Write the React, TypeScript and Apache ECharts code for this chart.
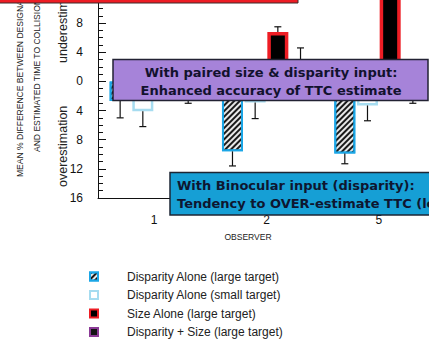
import React, { useEffect, useRef } from 'react';
import * as echarts from 'echarts';

const observers = ['1', '2', '5'];
const seriesNames = [
  'Disparity Alone (large target)',
  'Disparity Alone (small target)',
  'Size Alone (large target)',
  'Disparity + Size (large target)',
];
const dispLarge = [-2.7, -9.6, -9.9];
const dispLargeErr = [2.3, 2.0, 1.4];
const dispSmall = [-4.1, -2.9, -3.3];
const dispSmallErr = [2.1, 2.2, 2.1];
const sizeAlone = [1.0, 6.8, 15];
const sizeAloneErr = [0.8, 0.7, 1.0];
const combined = [-1.4, 2.0, -1.8];
const combinedErr = [1.6, 2.6, 1.2];

const values = [dispLarge, dispSmall, sizeAlone, combined];
const errors = [dispLargeErr, dispSmallErr, sizeAloneErr, combinedErr];

const BAR_W = 21;
const BAR_GAP = 0.08;
const PITCH = BAR_W * (1 + BAR_GAP);

const barStyles: any[] = [
  {
    color: '#e8e8e8',
    borderColor: '#1ba6e6',
    borderWidth: 2,
    decal: {
      symbol: 'rect',
      symbolSize: 1,
      dashArrayX: [[1, 0]],
      dashArrayY: [1.2, 1.6],
      rotation: -Math.PI / 4,
      color: '#1a1a1a',
    },
  },
  { color: '#ffffff', borderColor: '#a6dcf0', borderWidth: 2.5 },
  { color: '#000000', borderColor: '#ee1d24', borderWidth: 3.5 },
  { color: '#141414', borderColor: '#8b3a96', borderWidth: 2.5 },
];

export default function App() {
  const ref = useRef<HTMLDivElement>(null);
  useEffect(() => {
    document.body.style.margin = '0';
    if (!ref.current) return;
    const chart = echarts.init(ref.current, undefined, { renderer: 'svg' });

    const barSeries = values.map((vals, i) => ({
      name: seriesNames[i],
      type: 'bar',
      data: vals,
      barWidth: BAR_W,
      barGap: `${BAR_GAP * 100}%`,
      itemStyle: barStyles[i],
      z: 2,
    }));

    const errData: number[][] = [];
    values.forEach((vals, i) => {
      vals.forEach((v, j) => {
        errData.push([j, v, errors[i][j], i]);
      });
    });

    const errSeries = {
      name: 'error',
      type: 'custom',
      z: 3,
      data: errData,
      encode: { x: 0, y: 1 },
      renderItem: (params: any, api: any) => {
        const cat = api.value(0);
        const v = api.value(1);
        const e = api.value(2);
        const idx = api.value(3);
        const x = api.coord([cat, 0])[0] + (idx - 1.5) * PITCH;
        const y0 = api.coord([cat, v])[1];
        const y1 = api.coord([cat, v + (v >= 0 ? e : -e)])[1];
        const st = { stroke: '#111', lineWidth: 1.2 };
        return {
          type: 'group',
          children: [
            { type: 'line', shape: { x1: x, y1: y0, x2: x, y2: y1 }, style: st },
            { type: 'line', shape: { x1: x - 3.5, y1: y1, x2: x + 3.5, y2: y1 }, style: st },
          ],
        };
      },
    };

    const boxFont = 'bold 13px "DejaVu Sans"';
    const smallFont = '9.5px "Liberation Sans"';

    chart.setOption({
      animation: false,
      backgroundColor: '#ffffff',
      grid: { left: 98, right: -6, top: -6, bottom: 143, outerBoundsMode: 'none', containLabel: false },
      xAxis: {
        type: 'category',
        data: observers,
        axisLine: { onZero: false, lineStyle: { color: '#111', width: 1 } },
        axisTick: { show: false },
        axisLabel: { color: '#111', fontSize: 12, margin: 16, fontFamily: 'Liberation Sans' },
      },
      yAxis: {
        type: 'value',
        min: -16,
        max: 12,
        interval: 4,
        axisLine: { show: true, lineStyle: { color: '#111', width: 1 } },
        axisTick: { show: true, inside: true, length: 8, lineStyle: { color: '#111' } },
        minorTick: { show: true, splitNumber: 4, length: 5, lineStyle: { color: '#111' } },
        splitLine: { show: false },
        axisLabel: {
          formatter: (v: number) => (v > 8 ? '' : String(Math.abs(v))),
          color: '#111',
          fontSize: 12,
          margin: 15,
          fontFamily: 'Liberation Sans',
        },
      },
      legend: {
        data: seriesNames,
        orient: 'vertical',
        left: 89,
        top: 270.5,
        width: 250,
        height: 90,
        padding: 0,
        itemWidth: 8,
        itemHeight: 8,
        itemGap: 6.5,
        icon: 'rect',
        textStyle: { fontSize: 12, color: '#222', fontFamily: 'Liberation Sans', padding: [0, 0, 0, 24] },
      },
      series: [...barSeries, errSeries],
      graphic: [
        {
          type: 'text', x: 20, y: 177, rotation: Math.PI / 2, scaleX: 0.9, z: 50,
          style: { text: 'MEAN % DIFFERENCE BETWEEN DESIGNATED', font: smallFont, fill: '#222', textAlign: 'left', textVerticalAlign: 'middle' },
        },
        {
          type: 'text', x: 37, y: 152, rotation: Math.PI / 2, scaleX: 0.9, z: 50,
          style: { text: 'AND ESTIMATED TIME TO COLLISION', font: smallFont, fill: '#222', textAlign: 'left', textVerticalAlign: 'middle' },
        },
        {
          type: 'text', x: 63, y: 63, rotation: Math.PI / 2, z: 50,
          style: { text: 'underestimation', font: '12.5px "Liberation Sans"', fill: '#222', textAlign: 'left', textVerticalAlign: 'middle' },
        },
        {
          type: 'text', x: 63, y: 187, rotation: Math.PI / 2, z: 50,
          style: { text: 'overestimation', font: '12.5px "Liberation Sans"', fill: '#222', textAlign: 'left', textVerticalAlign: 'middle' },
        },
        {
          type: 'text', x: 248, y: 237, scaleX: 0.9, z: 50,
          style: { text: 'OBSERVER', font: smallFont, fill: '#222', textAlign: 'center', textVerticalAlign: 'middle' },
        },
        {
          type: 'rect', z: 100,
          shape: { x: -2, y: -30, width: 300, height: 33 },
          style: { fill: '#ed1c24', stroke: '#3a2a2a', lineWidth: 1 },
        },
        {
          type: 'rect', z: 100,
          shape: { x: 113, y: 59.5, width: 315, height: 41 },
          style: { fill: '#a683d9', stroke: '#222233', lineWidth: 1.5 },
        },
        {
          type: 'text', z: 101, x: 271, y: 81.5,
          style: {
            text: 'With paired size & disparity input:\nEnhanced accuracy of TTC estimate',
            font: boxFont, fill: '#12122e', textAlign: 'center', textVerticalAlign: 'middle', lineHeight: 18,
          },
        },
        {
          type: 'rect', z: 100,
          shape: { x: 170, y: 172.5, width: 270, height: 42.5 },
          style: { fill: '#169fd5', stroke: '#1c2634', lineWidth: 1.5 },
        },
        {
          type: 'text', z: 101, x: 177, y: 194,
          style: {
            text: 'With Binocular input (disparity):\nTendency to OVER-estimate TTC (longer TTC)',
            font: boxFont, fill: '#0e1630', textAlign: 'left', textVerticalAlign: 'middle', lineHeight: 18,
          },
        },
      ],
    });
    return () => chart.dispose();
  }, []);
  return <div ref={ref} style={{ width: 429, height: 341 }} />;
}
